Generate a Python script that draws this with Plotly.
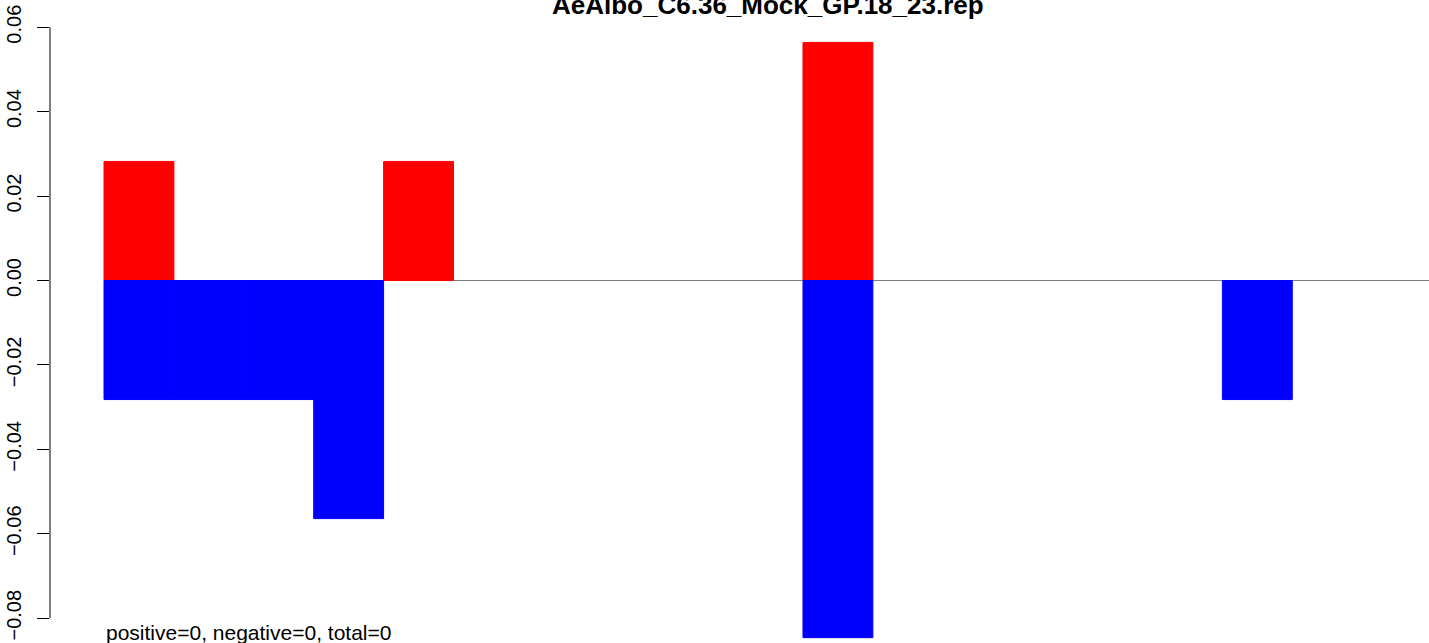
import plotly.graph_objects as go

# ---- data ----
n_bars = 19
pos_idx = [0, 4, 10]
pos_vals = [0.0282, 0.0282, 0.0564]
neg_idx = [0, 1, 2, 3, 10, 16]
neg_vals = [-0.0282, -0.0282, -0.0282, -0.0564, -0.0846, -0.0282]
y_ticks = [-0.08, -0.06, -0.04, -0.02, 0.00, 0.02, 0.04, 0.06]
y_tick_labels = ["\u22120.08", "\u22120.06", "\u22120.04", "\u22120.02",
                 "0.00", "0.02", "0.04", "0.06"]
title_text = "AeAlbo_C6.36_Mock_GP.18_23.rep"
note_text = "positive=0, negative=0, total=0"

FONT = "Liberation Sans, Arial, Helvetica, sans-serif"
RED = "#ff0000"
BLUE = "#0000ff"

fig = go.Figure()
fig.add_trace(go.Bar(x=pos_idx, y=pos_vals, width=1, offset=0,
                     marker=dict(color=RED, line=dict(width=1, color=RED)),
                     hoverinfo="skip"))
fig.add_trace(go.Bar(x=neg_idx, y=neg_vals, width=1, offset=0,
                     marker=dict(color=BLUE, line=dict(width=1, color=BLUE)),
                     hoverinfo="skip"))

# zero reference line across the bar region
fig.add_shape(type="line", xref="x", yref="y", x0=0, x1=n_bars, y0=0, y1=0,
              line=dict(color="#7f7f7f", width=1), layer="below")
# R-style y axis line spanning the tick range only
fig.add_shape(type="line", xref="paper", yref="y", x0=0, x1=0,
              y0=min(y_ticks), y1=max(y_ticks),
              line=dict(color="black", width=1))

fig.add_annotation(text="<b>" + title_text + "</b>", xref="x", yref="paper",
                   x=n_bars / 2, y=1.0, xanchor="center", yanchor="middle",
                   yshift=-5,
                   showarrow=False, font=dict(family=FONT, size=26, color="black"))
fig.add_annotation(text=note_text, xref="x", yref="paper",
                   x=0, y=0.0, xanchor="left", yanchor="bottom", yshift=-3,
                   showarrow=False, font=dict(family=FONT, size=21, color="black"))

fig.update_layout(
    width=1429, height=643,
    margin=dict(l=50, r=0, t=0, b=0),
    paper_bgcolor="white", plot_bgcolor="white",
    showlegend=False, barmode="overlay",
    xaxis=dict(range=[-0.7725, 18.956], visible=False, fixedrange=True),
    yaxis=dict(range=[-0.085866, 0.066443], tickvals=y_ticks, ticktext=y_tick_labels,
               tickangle=-90, ticks="outside", ticklen=12, tickwidth=1,
               tickcolor="black", showgrid=False, zeroline=False, showline=False,
               automargin=False, ticklabelstandoff=8, fixedrange=True,
               tickfont=dict(family=FONT, size=20, color="black")),
)

fig.write_html("out.html",
               config={"displayModeBar": False, "staticPlot": True},
               post_script="document.body.style.margin='0';"
                           "document.body.style.overflow='hidden';")
